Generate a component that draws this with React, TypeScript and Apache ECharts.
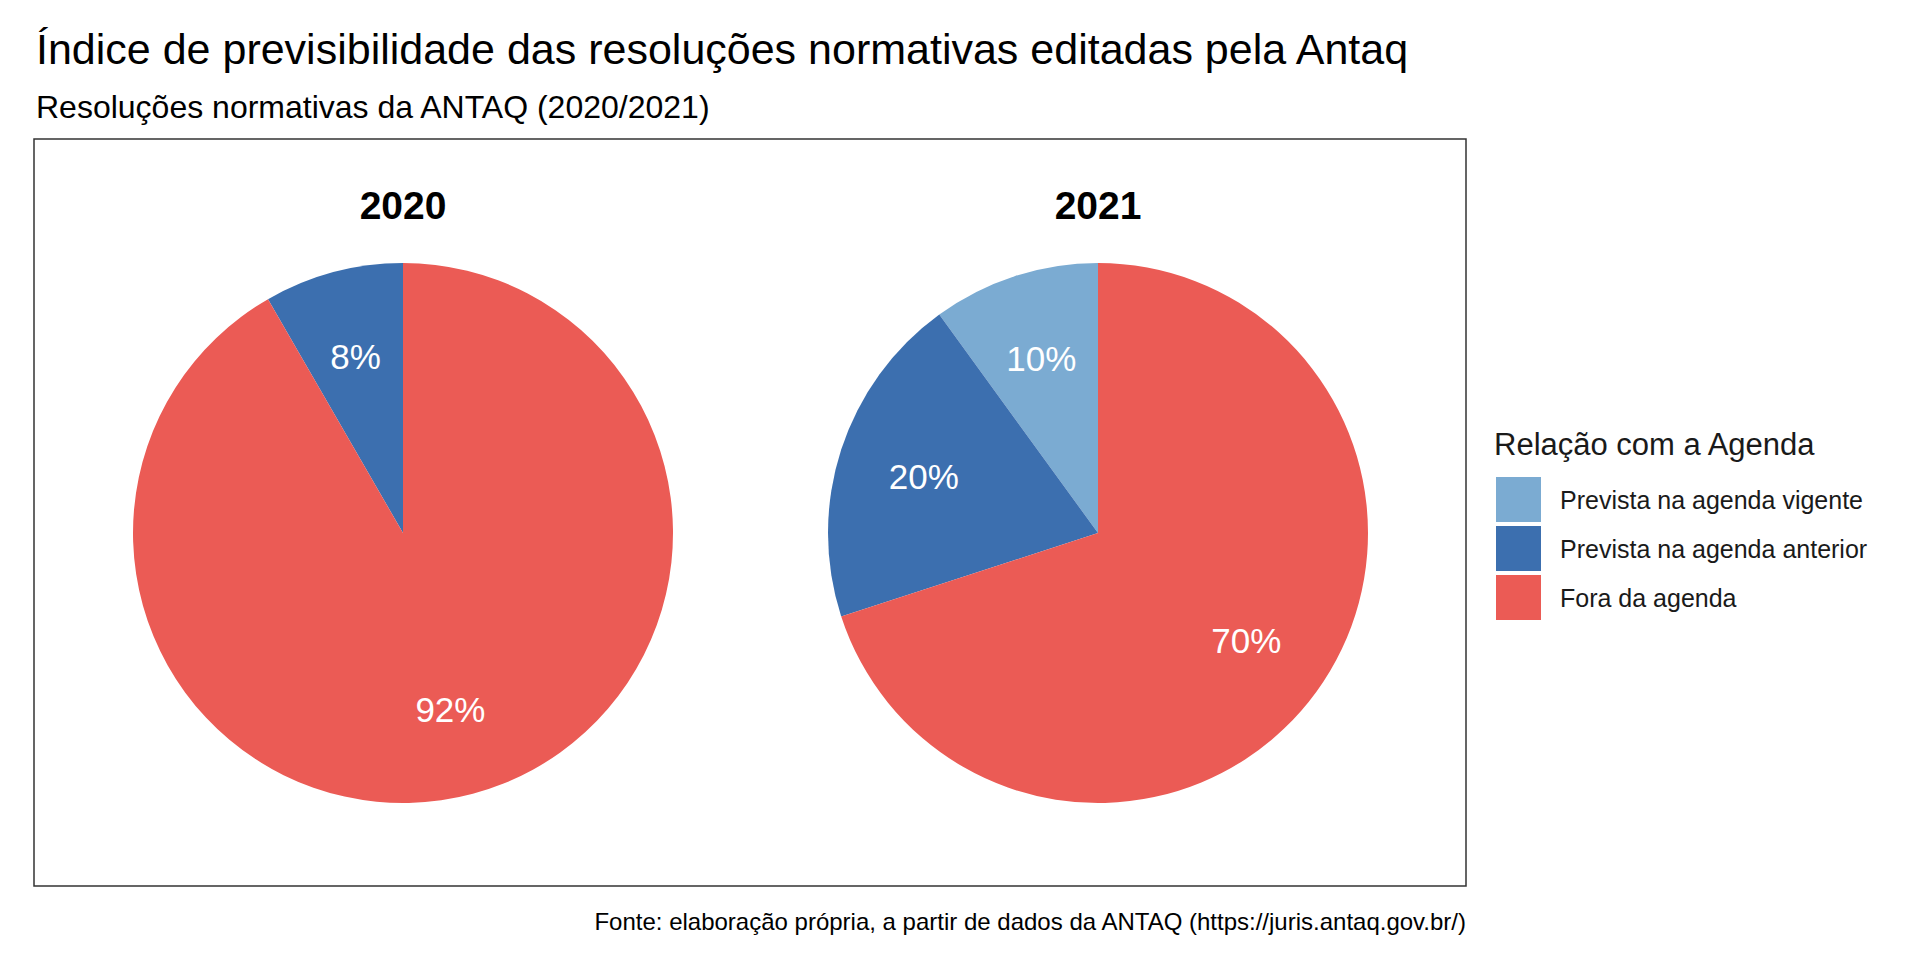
import React, { useEffect, useRef } from "react";
import * as echarts from "echarts";

const titleText = "Índice de previsibilidade das resoluções normativas editadas pela Antaq";
const subtitleText = "Resoluções normativas da ANTAQ (2020/2021)";
const captionText = "Fonte: elaboração própria, a partir de dados da ANTAQ (https://juris.antaq.gov.br/)";
const legendTitle = "Relação com a Agenda";

const years = ["2020", "2021"];
const categories = ["Prevista na agenda vigente", "Prevista na agenda anterior", "Fora da agenda"];
const counts2020 = [0, 1, 11];
const counts2021 = [1, 2, 7];
const colors = ["#7BABD2", "#3C6FAF", "#EB5B55"];

const FONT = "'Liberation Sans', Arial, Helvetica, sans-serif";

export default function App() {
  const ref = useRef<HTMLDivElement>(null);
  useEffect(() => {
    document.body.style.margin = "0";
    const chart = echarts.init(ref.current!, null, { renderer: "svg" });
    const allCounts = [counts2020, counts2021];
    const centersX = [403, 1098];
    const cy = 533;
    const R = 270;

    const mainSeries: any[] = years.map((y, i) => ({
      type: "pie",
      name: y,
      center: [centersX[i], cy],
      radius: R,
      startAngle: 90,
      clockwise: false,
      silent: true,
      label: { show: false },
      labelLine: { show: false },
      itemStyle: { borderWidth: 0 },
      data: categories.map((c, k) => ({ name: c, value: allCounts[i][k], itemStyle: { color: colors[k] } })),
    }));
    const labelSeries: any[] = years.map((y, i) => ({
      type: "pie",
      name: y + " labels",
      center: [centersX[i], cy],
      radius: R * 1.335,
      startAngle: 90,
      clockwise: false,
      silent: true,
      itemStyle: { color: "rgba(0,0,0,0)", borderWidth: 0 },
      label: {
        show: true,
        position: "inside",
        color: "#ffffff",
        fontSize: 35,
        fontFamily: FONT,
        formatter: (p: any) => (p.value ? Math.round(p.percent) + "%" : ""),
      },
      labelLine: { show: false },
      data: categories.map((c, k) => ({ name: c, value: allCounts[i][k] })),
    }));

    chart.setOption({
      animation: false,
      backgroundColor: "#ffffff",
      textStyle: { fontFamily: FONT },
      legend: {
        orient: "vertical",
        left: 1496,
        top: 477,
        padding: 0,
        itemWidth: 45,
        itemHeight: 45,
        itemGap: 4,
        icon: "rect",
        selectedMode: false,
        data: categories,
        textStyle: { fontSize: 25, color: "#1a1a1a", fontFamily: FONT, padding: [0, 0, 0, 14] },
      },
      graphic: [
        { type: "text", left: 36, top: 51 - 24, style: { text: titleText, fontSize: 43, fontFamily: FONT, fill: "#000" } },
        { type: "text", left: 36, top: 108 - 17, style: { text: subtitleText, fontSize: 32, fontFamily: FONT, fill: "#000" } },
        {
          type: "rect",
          shape: { x: 34, y: 139, width: 1432, height: 747 },
          style: { fill: "none", stroke: "#333333", lineWidth: 1.5 },
        },
        ...years.map((y, i) => ({
          type: "text",
          x: centersX[i],
          y: 205,
          style: { text: y, fontSize: 39, fontWeight: "bold", fontFamily: FONT, fill: "#000", textAlign: "center", textVerticalAlign: "middle" },
        })),
        {
          type: "text",
          x: 1494,
          y: 444,
          style: { text: legendTitle, fontSize: 31, fontFamily: FONT, fill: "#1a1a1a", textVerticalAlign: "middle" },
        },
        {
          type: "text",
          x: 1466,
          y: 921,
          style: { text: captionText, fontSize: 24, fontFamily: FONT, fill: "#000", textAlign: "right", textVerticalAlign: "middle" },
        },
      ],
      series: [...mainSeries, ...labelSeries],
    });
    return () => chart.dispose();
  }, []);
  return <div ref={ref} style={{ width: 1920, height: 960 }} />;
}
